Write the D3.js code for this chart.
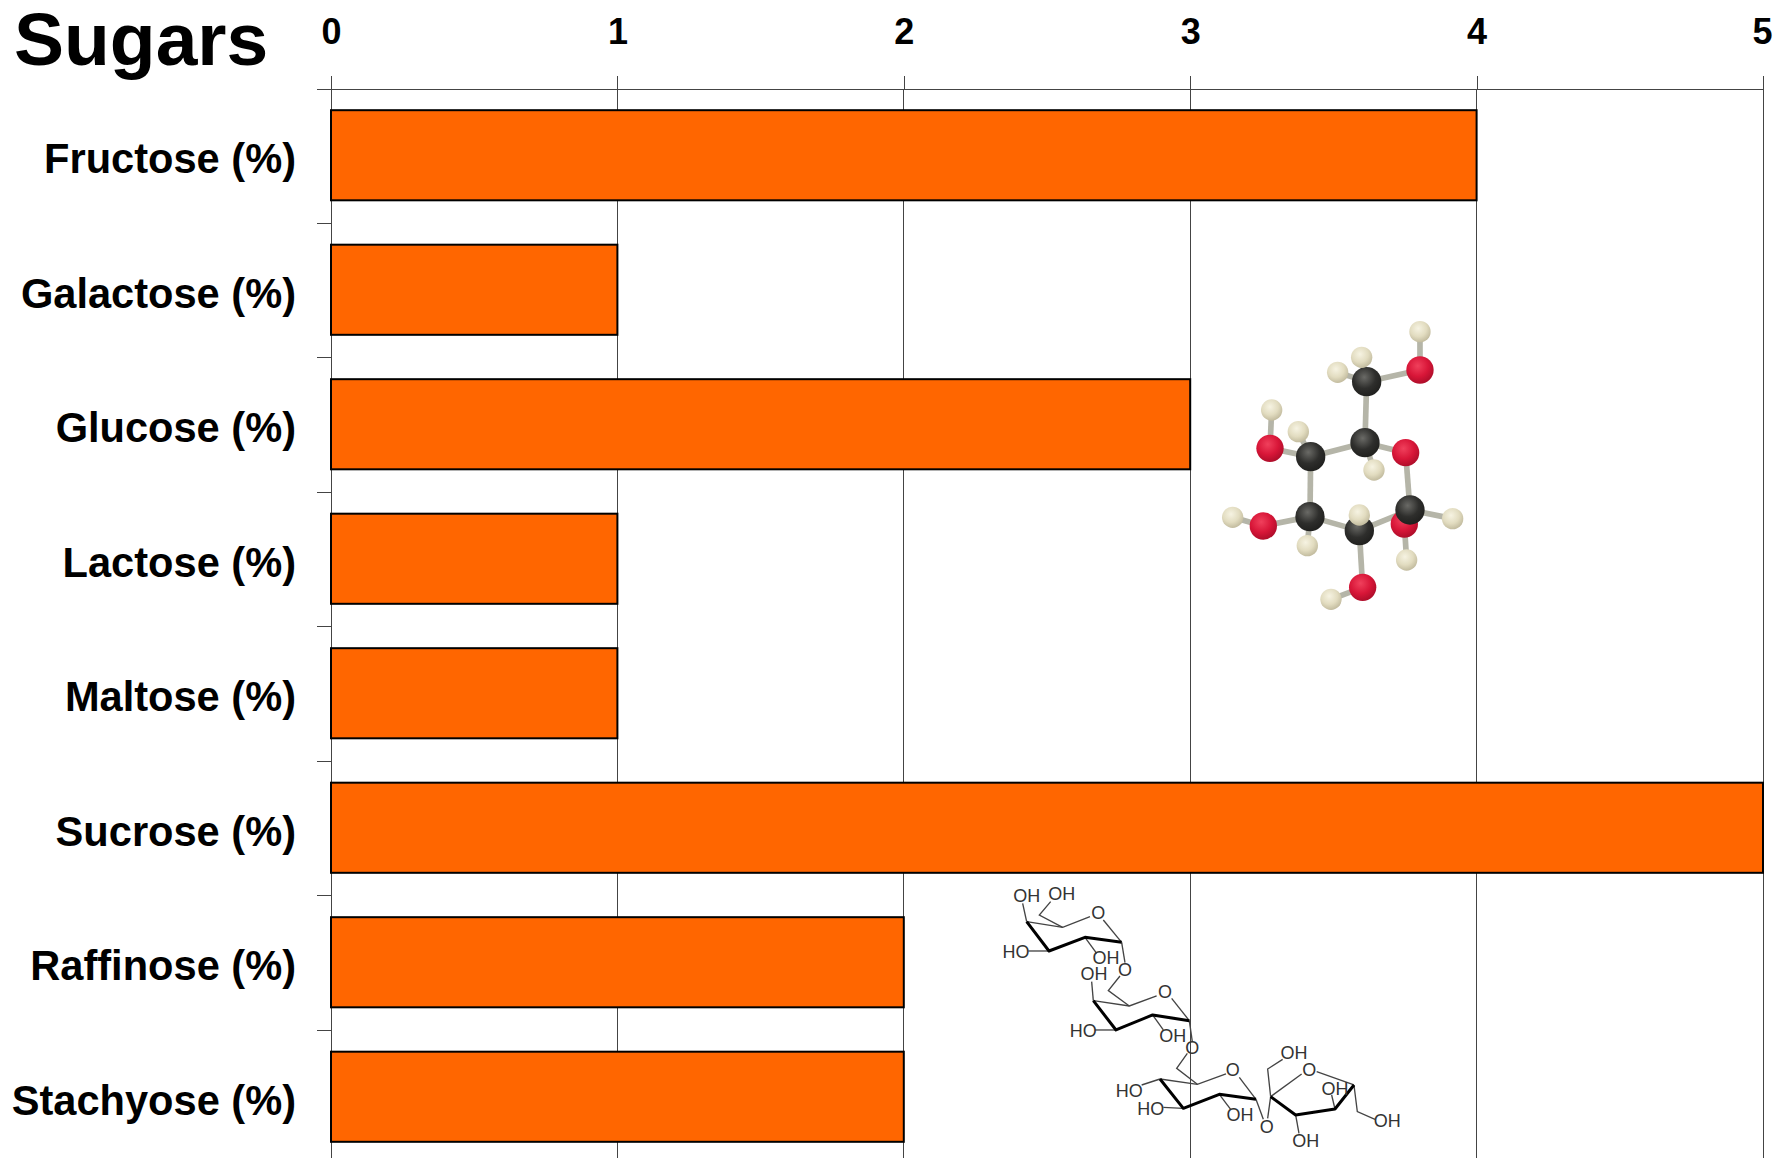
<!DOCTYPE html>
<html><head><meta charset="utf-8">
<script src="https://cdn.jsdelivr.net/npm/d3@7"></script>
<style>html,body{margin:0;padding:0;background:#fff}svg{display:block}text{font-family:"Liberation Sans",Arial,sans-serif}</style>
</head><body><svg id="c" width="1788" height="1158"></svg>
<script>
const categories=["Fructose (%)","Galactose (%)","Glucose (%)","Lactose (%)","Maltose (%)","Sucrose (%)","Raffinose (%)","Stachyose (%)"];
const values=[4,1,3,1,1,5,2,2];
const xTicks=[0,1,2,3,4,5];
const titleText="Sugars";

// Illustration: glucose ball-and-stick (crop coordinates, 3x)
const ballBonds=[[720,95,720,210],[720,210,560,245],[560,245,545,172],[560,245,473,217],[560,245,555,428],[555,428,677,458],[555,428,582,510],[555,428,392,470],[392,470,355,395],[392,470,270,445],[270,445,275,330],[392,470,390,650],[390,650,250,678],[250,678,158,652],[390,650,382,737],[390,650,538,692],[538,692,538,645],[538,692,548,862],[548,862,453,898],[538,692,690,630],[677,458,690,630],[690,630,818,656],[673,672,680,780]];
const ballAtoms=[["O",673,672],["H",680,780],["H",720,95],["O",720,210],["C",560,245],["H",545,172],["H",473,217],["H",582,510],["C",555,428],["O",677,458],["H",275,330],["O",270,445],["C",392,470],["H",355,395],["H",158,652],["O",250,678],["H",382,737],["C",390,650],["H",453,898],["O",548,862],["C",538,692],["H",538,645],["C",690,630],["H",818,656]];

// Illustration: stachyose skeletal formula, upper part (crop A) and lower part (crop B)
const thinA=[[[330,140],[248,172],[140,155]],[[425,217],[370,150]],[[140,155],[128,100]],[[248,172],[178,135],[212,95]],[[207,243],[145,243]],[[315,202],[350,250]],[[425,217],[435,278]],[[530,378],[448,408],[340,392]],[[628,452],[575,385]],[[340,392],[335,335]],[[448,408],[385,362],[420,318]],[[408,480],[345,480]],[[518,435],[550,480]],[[628,452],[637,515]]];
const thickA=[[[140,155],[207,243],[315,202],[425,217]],[[340,392],[408,480],[518,435],[628,452]]];
const labelsA=[["OH",140,78],["OH",245,72],["O",355,128],["HO",108,245],["OH",378,262],["O",435,298],["OH",342,312],["O",555,365],["HO",310,482],["OH",578,498]];
const thinB=[[[378,222],[292,253],[180,237]],[[468,298],[418,232]],[[180,237],[125,255]],[[292,253],[230,205],[262,160]],[[250,325],[190,322]],[[358,283],[392,328]],[[468,298],[490,358]],[[605,222],[512,290]],[[762,255],[650,215]],[[512,290],[503,355]],[[512,290],[503,207],[548,178]],[[587,345],[597,400]],[[705,327],[695,285]],[[762,255],[772,335],[825,358]]];
const thickB=[[[180,237],[250,325],[358,283],[468,298]],[[512,290],[587,345],[705,327],[762,255]]];
const labelsB=[["O",277,143],["O",398,210],["HO",88,272],["HO",152,325],["OH",420,345],["O",500,380],["OH",582,158],["O",628,208],["OH",705,267],["OH",617,422],["OH",862,362]];

const svg=d3.select("#c");
const plot={left:331,right:1763,top:89,bandTop:88,bottom:1164};
const x=d3.scaleLinear().domain([0,5]).range([plot.left,plot.right]);
const y=d3.scaleBand().domain(categories).range([plot.bandTop,plot.bottom]).paddingInner(0.33).paddingOuter(0.165);
const edge=d3.scaleLinear().domain([0,categories.length]).range([plot.bandTop,plot.bottom]);
const gridColor="#444";

// grid + top axis
const gx=svg.append("g").attr("transform",`translate(0,${plot.top})`)
  .call(d3.axisTop(x).tickValues(xTicks).tickSize(13).tickPadding(32).tickFormat(d3.format("d")));
gx.select(".domain").remove();
gx.selectAll("line").attr("stroke",gridColor).attr("shape-rendering","crispEdges");
gx.selectAll("text").attr("font-size",36).attr("font-weight","bold").attr("fill","#000").attr("dy",0);
gx.selectAll(".tick").filter(d=>d===5).select("text").attr("text-anchor","end").attr("dx",9);
svg.append("g").selectAll("line").data(xTicks).join("line")
  .attr("x1",d=>x(d)).attr("x2",d=>x(d)).attr("y1",plot.top).attr("y2",1158)
  .attr("stroke",gridColor).attr("shape-rendering","crispEdges");

// left axis: tick marks between the bands
const gt=svg.append("g").attr("transform",`translate(${plot.left},0)`)
  .call(d3.axisLeft(edge).tickValues(d3.range(1,categories.length)).tickSize(14).tickFormat(""));
gt.select(".domain").remove();
gt.selectAll("line").attr("stroke",gridColor).attr("shape-rendering","crispEdges");
svg.append("line").attr("x1",plot.left-14).attr("x2",plot.right).attr("y1",plot.top).attr("y2",plot.top)
  .attr("stroke",gridColor).attr("shape-rendering","crispEdges");

// labels
const gl=svg.append("g").attr("transform",`translate(${plot.left},0)`)
  .call(d3.axisLeft(y).tickSize(0).tickPadding(35));
gl.select(".domain").remove();
gl.selectAll("text").attr("font-size",41.6).attr("font-weight","bold").attr("fill","#000").attr("dy",18);

// bars
svg.append("g").selectAll("rect").data(values).join("rect")
  .attr("x",x(0)).attr("y",(d,i)=>y(categories[i])).attr("width",d=>x(d)-x(0)).attr("height",y.bandwidth())
  .attr("fill","#ff6600").attr("stroke","#000").attr("stroke-width",2);

// title
svg.append("text").text(titleText).attr("x",14).attr("y",65).attr("font-size",75).attr("font-weight","bold").attr("fill","#000");

// defs for atoms
const defs=svg.append("defs");
const atomColors={C:["#6a6a66","#2e2e2c","#1e1e1c"],O:["#f0405c","#d81638","#a80c28"],H:["#f6f3e2","#e2dcc0","#bdb699"]};
const atomRadius={C:44,O:41,H:32};
Object.entries(atomColors).forEach(([k,c])=>{
  const g=defs.append("radialGradient").attr("id","atom"+k).attr("cx","42%").attr("cy","35%").attr("r","70%");
  g.append("stop").attr("offset","0%").attr("stop-color",c[0]);
  g.append("stop").attr("offset","55%").attr("stop-color",c[1]);
  g.append("stop").attr("offset","100%").attr("stop-color",c[2]);
});

// glucose model
const ball=svg.append("g").attr("transform","translate(1180,300) scale(0.3333)");
ball.selectAll("line").data(ballBonds).join("line")
  .attr("x1",d=>d[0]).attr("y1",d=>d[1]).attr("x2",d=>d[2]).attr("y2",d=>d[3])
  .attr("stroke","#b5b5a8").attr("stroke-width",17);
ball.selectAll("circle").data(ballAtoms).join("circle")
  .attr("cx",d=>d[1]).attr("cy",d=>d[2]).attr("r",d=>atomRadius[d[0]])
  .attr("fill",d=>`url(#atom${d[0]})`);

// skeletal formula
const line=d3.line();
function skeletal(tx,ty,thin,thick,labels){
  const g=svg.append("g").attr("transform",`translate(${tx},${ty}) scale(0.3333)`);
  g.selectAll("path.thin").data(thin).join("path").attr("class","thin").attr("d",line)
    .attr("fill","none").attr("stroke","#444").attr("stroke-width",4);
  g.selectAll("path.thick").data(thick).join("path").attr("class","thick").attr("d",line)
    .attr("fill","none").attr("stroke","#000").attr("stroke-width",9).attr("stroke-linejoin","round");
  g.selectAll("text").data(labels).join("text").text(d=>d[0])
    .attr("x",d=>d[1]).attr("y",d=>d[2]+19).attr("text-anchor","middle")
    .attr("font-size",54).attr("fill","#333");
}
skeletal(980,870,thinA,thickA,labelsA);
skeletal(1100,1000,thinB,thickB,labelsB);
</script></body></html>
